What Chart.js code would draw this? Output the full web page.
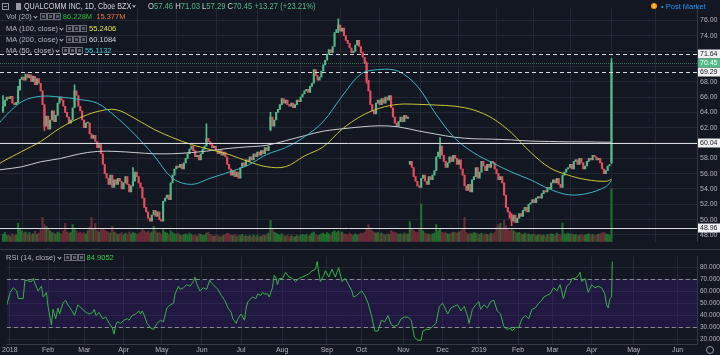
<!DOCTYPE html>
<html><head><meta charset="utf-8">
<script src="https://cdn.jsdelivr.net/npm/chart.js@4.4.1/dist/chart.umd.min.js"></script>
<style>
html,body{margin:0;padding:0;background:#131722;width:720px;height:355px;overflow:hidden;font-family:"Liberation Sans",Arial,sans-serif;}
canvas{position:absolute;left:0;}
#main{top:0;}
#rsi{top:250px;}
#sep{position:absolute;left:0;top:249px;width:720px;height:1px;background:#363a45;}
.row{position:absolute;left:6px;white-space:nowrap;font-size:7.5px;line-height:9px;color:#b2b5be;}
.chev{display:inline-block;width:2px;height:2px;border-right:1px solid #b2b5be;border-bottom:1px solid #b2b5be;transform:rotate(45deg);margin:0 3px 2px 2px;vertical-align:middle;}
.ic{display:inline-block;width:5px;height:5px;border:1px solid #6a6d78;margin-right:0;vertical-align:middle;position:relative;top:-1px;}
.ic i{position:absolute;left:1px;top:1px;width:3px;height:3px;background:#5a5d68;}
.v{margin-left:2px;}
#title{position:absolute;left:0;top:0;height:12px;width:720px;font-size:9px;line-height:12px;color:#d1d4dc;white-space:nowrap;}
.sq{display:inline-block;transform:scaleX(0.8);transform-origin:0 50%;}
.g{color:#53b987}
</style></head>
<body>
<canvas id="main" width="720" height="249"></canvas>
<div id="sep"></div>
<canvas id="rsi" width="720" height="105"></canvas>

<div id="title">
  <span style="position:absolute;left:2px;top:3px;width:5px;height:5px;border:1px solid #9598a1;"><i style="position:absolute;left:1px;top:2px;width:3px;height:1px;background:#9598a1"></i></span>
  <span style="position:absolute;left:16px;top:3px;width:5px;height:7px;background:#9598a1;"></span>
  <span class="sq" style="position:absolute;left:24px;top:0;">QUALCOMM INC, 1D, Cboe BZX<span class="chev" style="border-color:#d1d4dc"></span></span>
  <span class="sq" style="position:absolute;left:148px;top:0;transform:scaleX(0.85);">O<span class="g">57.46</span> H<span class="g">71.03</span> L<span class="g">57.29</span> C<span class="g">70.45</span> <span class="g">+13.27 (+23.21%)</span></span>
  <span style="position:absolute;left:651px;top:3px;width:6px;height:6px;border-radius:50%;background:#ff9800;color:#fff;font-size:5px;line-height:6px;text-align:center;font-weight:bold">!</span>
  <span style="position:absolute;left:661px;top:1px;font-size:7.5px;color:#2196f3;">&bull; Post Market</span>
</div>
<div class="row" style="top:12px">Vol (20)<span class="chev"></span><span class="ic"><i></i></span><span class="ic"><i></i></span><span class="ic"><i></i></span><span class="v" style="color:#26c030">86.228M</span>&nbsp; <span style="color:#e8793a">15.377M</span></div>
<div class="row" style="top:24px">MA (100, close)<span class="chev"></span><span class="ic"><i></i></span><span class="ic"><i></i></span><span class="ic"><i></i></span><span class="v" style="color:#e3e24a">55.2406</span></div>
<div class="row" style="top:35px">MA (200, close)<span class="chev"></span><span class="ic"><i></i></span><span class="ic"><i></i></span><span class="ic"><i></i></span><span class="v" style="color:#d1d4dc">60.1084</span></div>
<div class="row" style="top:46px">MA (50, close)<span class="chev"></span><span class="ic"><i></i></span><span class="ic"><i></i></span><span class="ic"><i></i></span><span class="v" style="color:#3cc6d4">55.1132</span></div>
<div class="row" style="top:253px">RSI (14, close)<span class="chev"></span><span class="ic"><i></i></span><span class="ic"><i></i></span><span class="ic"><i></i></span><span class="v" style="color:#3cd048">84.9052</span></div>
<div style="position:absolute;left:706px;top:346px;width:6px;height:6px;border:1px solid #9598a1;border-radius:50%;"></div>

<script>
// ---------- DATA ----------
const monthBars   = [0, 20.5, 40, 61, 81.5, 103, 124, 146, 170, 188.5, 211, 232, 251.5, 272.5, 291, 312, 334.5, 358];
const monthLabels = ['2018','Feb','Mar','Apr','May','Jun','Jul','Aug','Sep','Oct','Nov','Dec','2019','Feb','Mar','Apr','May','Jun'];

// daily closes, 2 Jan 2018 .. 16 Apr 2019
const closes = [
64.8,65.6,66.0,65.8,66.1,65.2,65.0,65.3,66.9,68.3,
68.6,68.2,69.0,68.5,68.9,68.0,68.7,67.6,68.4,67.8,
66.8,65.0,62.2,63.5,61.8,63.0,64.2,62.8,63.6,65.2,
66.0,65.6,64.8,64.0,63.4,62.6,63.0,64.6,66.8,66.2,
64.8,64.2,63.0,62.0,62.6,62.6,61.2,60.6,61.0,60.2,
59.4,59.8,58.6,57.2,56.0,55.4,54.6,55.8,54.2,55.2,
54.6,55.4,55.0,54.0,54.8,55.6,54.6,53.6,54.4,55.0,
56.2,55.6,54.8,54.2,52.8,51.6,51.0,50.2,49.8,50.6,
51.2,50.4,51.0,50.0,49.8,52.4,52.8,53.2,52.6,54.8,
55.8,56.6,57.0,56.8,57.2,56.6,57.4,58.0,58.6,59.2,
59.6,59.0,58.2,58.4,57.8,58.6,59.2,59.6,60.6,60.2,
59.8,59.4,59.6,59.0,58.6,59.0,58.4,58.8,58.2,57.2,
56.6,55.8,56.4,55.6,56.2,55.4,56.8,57.4,57.0,57.8,
57.6,58.2,57.8,58.6,58.2,58.8,58.4,59.0,58.6,59.4,
59.0,59.6,63.4,62.2,63.0,64.0,64.4,65.0,65.8,65.2,
65.6,65.0,64.8,65.2,64.6,65.0,65.6,65.4,66.0,66.4,
66.8,67.0,66.6,67.4,67.8,69.6,68.8,68.2,68.6,69.4,
70.2,70.8,71.6,72.2,71.8,72.6,74.4,74.8,75.4,74.6,
75.0,74.0,73.4,73.0,72.4,71.8,72.0,72.8,73.4,72.6,
71.8,71.2,70.4,68.2,66.8,65.0,64.2,63.8,65.2,65.6,
65.0,65.8,65.2,66.0,65.6,66.2,64.6,63.4,62.6,62.2,
62.8,63.4,62.8,63.6,63.2,63.4,57.6,56.8,55.6,55.0,
54.4,54.2,55.4,55.8,55.0,54.6,55.6,55.2,55.8,56.4,
58.2,58.8,59.6,58.4,57.6,56.8,57.4,58.2,57.6,58.4,
58.0,57.2,57.8,56.6,55.8,54.4,53.8,54.6,53.6,55.2,
55.6,56.8,55.4,56.2,57.6,57.0,56.4,57.2,56.8,57.6,
57.4,56.6,56.0,55.2,55.6,54.8,53.2,51.6,51.0,50.2,
49.8,50.6,49.6,50.2,50.8,50.4,51.2,51.6,51.0,52.0,
52.2,52.6,52.2,52.8,53.0,52.8,53.4,53.8,53.6,54.2,
54.0,54.8,55.2,54.8,55.4,54.6,54.2,55.8,56.2,56.6,
56.8,57.2,56.6,57.6,57.8,57.2,58.0,57.4,56.6,57.0,
57.6,58.0,57.8,58.4,58.2,57.8,58.0,57.4,56.6,56.0,
56.4,57.0,57.18,70.45];

// opens that differ from the previous close: [bar, open]
const openGaps = [[0,64.2],[142,61.8],[216,57.2],[323,57.46]];
// visible wicks: [bar, low, high]
const wicks = [[0,64.0,66.2],[8,65.2,67.4],[22,61.6,64.6],[38,64.8,67.6],[69,54.4,56.8],[108,59.8,62.5],
               [142,61.6,64.0],[178,74.4,76.2],[193,67.8,70.6],[232,58.0,60.7],[270,49.2,50.8],[323,57.29,71.03]];

// volume, millions
const volumes = [
12,15,10,11,9,13,10,11,30,22, 18,14,16,12,15,11,13,17,12,14,
20,40,28,25,22,18,15,14,12,16, 14,12,18,30,16,14,15,28,20,17,
14,16,13,15,12,18,24,40,22,30, 18,16,20,22,19,17,15,14,25,16,
14,12,13,15,11,14,12,16,13,15, 14,12,13,16,22,18,15,17,14,16,
25,18,14,15,13,20,16,14,12,18, 15,13,12,14,11,10,12,13,11,14,
12,10,11,9,13,12,10,11,14,16, 12,10,9,11,10,8,9,10,12,14,
13,11,10,12,9,11,10,12,9,10, 9,10,8,11,9,10,8,9,11,10,
12,14,35,22,16,14,12,11,13,10, 9,11,8,10,9,8,10,9,11,12,
10,12,9,11,14,16,12,10,11,13, 14,12,15,13,11,16,18,15,17,14,
16,13,12,11,14,12,10,13,11,12, 14,13,16,22,28,20,18,16,14,15,
13,14,12,11,13,12,18,16,15,14, 12,13,11,14,12,13,33,22,18,16,
15,20,62,18,14,13,12,11,13,14, 28,18,22,16,14,15,13,12,14,16,
15,14,16,18,20,40,15,12,14,13, 15,14,13,12,14,11,13,12,11,14,
13,15,24,28,30,22,35,26,20,18, 22,18,16,14,15,13,12,14,12,13,
11,12,13,10,11,12,10,11,9,12, 11,13,12,10,14,12,11,30,13,12,
14,12,13,11,12,10,11,12,10,11, 12,13,11,12,10,11,12,13,14,15,
13,12,11,86.228];

// moving averages, read at these bars
const maBars = [-1.6,0,10,20,30,40,50,60,70,80,90,100,110,120,130,140,150,160,170,180,190,200,210,220,230,240,250,260,270,280,290,300,310,320,323];
const ma50  = [62.7,63.2,65.4,66.1,66.0,65.7,65.2,63.4,61.1,58.4,55.4,54.6,55.4,56.2,57.1,58.5,59.4,60.8,62.8,66.1,69.0,69.6,69.35,67.4,63.7,60.6,58.7,57.4,56.2,55.2,54.0,53.25,53.4,54.3,55.11];
const ma100 = [57.35,57.6,58.9,60.2,61.9,63.2,64.1,64.35,63.2,61.8,60.7,59.8,59.15,58.5,57.6,56.9,56.9,58.3,59.5,61.8,63.5,64.55,65.05,65.05,64.95,64.8,64.3,63.2,61.3,58.8,56.8,55.8,55.2,55.0,55.24];
const ma200 = [56.5,56.55,56.9,57.55,57.95,58.55,58.9,58.9,58.75,58.6,58.6,58.75,59.0,59.3,59.5,59.7,60.3,60.95,61.55,61.85,62.1,62.25,62.1,61.6,61.15,60.75,60.55,60.5,60.4,60.25,60.2,60.15,60.15,60.1,60.11];

// RSI(14): [bar, value]
const rsiPoints = [
[-1.6,48.8],[0.2,59.1],[1.9,63.0],[3.7,60.4],[4.6,54.0],[7.2,54.0],[8.1,69.5],[9.9,68.7],[11.7,68.2],[12.6,70.8],
[13.4,66.9],[15.2,60.4],[17.0,64.3],[17.9,55.3],[19.6,59.1],[20.5,47.5],[22.3,32.1],[23.2,45.0],[24.6,37.2],[25.8,46.2],
[26.7,41.1],[28.5,50.1],[29.9,52.7],[31.1,48.8],[32.9,45.0],[34.7,39.8],[36.5,48.8],[37.3,47.5],[39.1,45.0],[40.9,42.4],
[42.6,41.1],[44.4,42.4],[45.3,45.0],[46.2,39.8],[47.9,42.4],[49.7,37.2],[51.5,38.5],[53.3,33.3],[55.0,29.5],[55.9,24.3],
[56.8,32.1],[57.7,34.6],[59.4,33.3],[61.2,35.9],[63.0,37.2],[63.9,35.9],[65.6,39.8],[67.4,41.1],[69.2,43.7],[70.1,41.1],
[70.9,43.7],[71.8,41.1],[73.6,33.3],[75.4,29.5],[77.1,28.2],[78.9,33.3],[80.7,35.9],[82.4,34.6],[84.2,46.2],[86.0,48.8],
[87.8,50.1],[88.6,57.9],[90.4,64.3],[91.3,61.7],[93.1,63.0],[94.8,65.6],[96.6,64.3],[98.4,68.2],[99.3,72.0],[100.1,66.9],
[101.9,60.4],[103.7,63.0],[105.5,61.7],[107.2,69.5],[108.1,66.9],[109.9,64.3],[111.6,61.7],[113.4,56.6],[115.2,52.7],[117.0,46.2],
[118.7,42.4],[119.6,37.2],[121.4,33.3],[122.3,37.2],[124.0,41.1],[125.8,35.9],[126.7,46.2],[127.6,51.4],[129.3,54.0],[130.2,55.3],
[132.0,54.0],[132.9,57.9],[134.6,56.6],[135.5,59.1],[136.4,57.9],[138.2,57.9],[139.1,55.3],[140.8,63.0],[141.7,73.3],[142.6,72.0],
[143.5,65.6],[144.4,70.8],[146.1,70.8],[147.9,75.9],[149.7,72.0],[151.5,70.8],[153.2,68.2],[155.0,70.8],[156.8,72.0],[158.6,73.3],
[160.3,74.6],[162.1,77.2],[163.9,78.5],[164.8,84.9],[165.6,75.9],[166.5,68.2],[168.3,73.3],[169.2,77.2],[171.0,72.0],[172.7,78.5],
[174.5,72.0],[176.3,79.8],[178.1,68.2],[179.8,70.8],[181.6,65.6],[183.4,60.4],[184.2,55.3],[185.9,56.6],[188.6,60.4],[190.3,56.6],
[192.1,50.1],[193.9,39.8],[195.7,26.9],[197.4,26.9],[199.2,35.9],[201.0,34.6],[202.8,39.8],[204.5,32.1],[206.3,30.8],[208.1,32.1],
[209.8,37.2],[211.6,38.5],[213.4,38.5],[215.2,35.9],[216.9,21.7],[218.7,19.2],[220.5,19.2],[221.4,26.9],[223.2,28.2],[224.9,28.2],
[226.7,30.8],[228.5,33.3],[230.3,47.5],[232.0,50.1],[232.9,47.5],[234.7,41.1],[236.5,46.2],[238.2,47.5],[240.0,48.8],[241.8,43.7],
[243.6,47.5],[245.3,39.8],[246.2,33.3],[248.0,45.0],[249.8,48.8],[251.5,51.4],[252.4,45.0],[254.2,48.8],[256.0,46.2],[257.7,51.4],
[259.5,52.7],[261.3,43.7],[263.1,41.1],[264.8,30.8],[266.6,28.2],[268.4,29.5],[269.3,26.9],[271.1,30.0],[272.8,29.5],[274.6,37.2],
[276.4,39.8],[278.2,37.2],[279.9,45.0],[281.7,46.2],[283.5,50.1],[285.3,52.7],[286.2,55.3],[287.9,56.6],[289.7,57.9],[291.5,63.0],
[293.3,60.4],[295.0,65.6],[296.8,54.0],[298.6,64.3],[300.4,66.9],[301.3,70.8],[303.0,70.8],[304.8,73.3],[305.7,75.9],[306.6,68.2],
[308.4,70.8],[310.1,59.1],[311.9,65.6],[313.7,63.0],[315.5,64.3],[317.3,63.0],[319.0,57.9],[319.9,48.8],[320.8,46.2],[321.7,54.0],
[322.6,55.3],[323,84.9052]];

const priceTicks = [48,50,52,54,56,58,60,62,64,66,68,70,72,74,76];
const hiddenPriceLabels = [60,70,72];
const levelPrices = [71.64, 69.29, 60.04, 48.96];
const rsiTicks = [20,30,40,50,60,70,80];
const rsiBands = [70, 30];

// ---------- STYLE ----------
const FONT = '"Liberation Sans", Arial, sans-serif';
const UP = '#53b987', DN = '#eb4d5c', VUP = '#216d2d', VDN = '#6c2c37';
const GRID = '#232733', AXIS = '#363a45', TXT = '#b2b5be';
const X_MIN = -1.59, X_MAX = 368.4;

const opens = closes.map((c, i) => i > 0 ? closes[i - 1] : c);
openGaps.forEach(([i, o]) => { opens[i] = o; });
const up = closes.map((c, i) => c >= opens[i]);

const setMonthTicks = s => { s.ticks = monthBars.map(v => ({value: v})); };

const levelPlugin = {
  id: 'levels',
  afterDatasetsDraw(chart) {
    const {ctx, chartArea: ca, scales: {y}} = chart;
    ctx.save();
    ctx.lineWidth = 1;
    const last = closes[closes.length - 1];
    const yl = Math.round(y.getPixelForValue(last)) + 0.5;
    ctx.strokeStyle = 'rgba(83,185,135,0.55)';
    ctx.setLineDash([1, 1]);
    ctx.beginPath(); ctx.moveTo(ca.left, yl); ctx.lineTo(ca.right, yl); ctx.stroke();
    levelPrices.forEach((p, k) => {
      const yy = Math.round(y.getPixelForValue(p)) + 0.5;
      ctx.strokeStyle = '#d8d9dc';
      ctx.setLineDash(k < 2 ? [4, 3] : []);
      ctx.beginPath(); ctx.moveTo(ca.left, yy); ctx.lineTo(ca.right, yy); ctx.stroke();
    });
    ctx.setLineDash([]);
    ctx.font = '7px ' + FONT;
    ctx.textBaseline = 'middle';
    const box = (p, bg, fg) => {
      const yy = Math.round(y.getPixelForValue(p));
      ctx.fillStyle = bg;
      ctx.fillRect(ca.right + 1, yy - 4.5, chart.width - ca.right - 1, 9);
      ctx.fillStyle = fg;
      ctx.fillText(p.toFixed(2), ca.right + 3, yy + 0.5);
    };
    levelPrices.forEach(p => box(p, '#f0f0f0', '#131722'));
    box(last, UP, '#ffffff');
    ctx.restore();
  }
};

new Chart(document.getElementById('main'), {
  type: 'bar',
  data: {
    datasets: [
      {type: 'line', order: 1, data: maBars.map((b, i) => ({x: b, y: ma50[i]})), borderColor: '#3ab6c6', borderWidth: 1, pointRadius: 0, tension: 0.35, yAxisID: 'y'},
      {type: 'line', order: 1, data: maBars.map((b, i) => ({x: b, y: ma100[i]})), borderColor: '#c8c636', borderWidth: 1, pointRadius: 0, tension: 0.35, yAxisID: 'y'},
      {type: 'line', order: 1, data: maBars.map((b, i) => ({x: b, y: ma200[i]})), borderColor: '#c9cbd0', borderWidth: 1, pointRadius: 0, tension: 0.35, yAxisID: 'y'},
      {order: 2, data: closes.map((c, i) => ({x: i, y: [opens[i], c]})), backgroundColor: up.map(u => u ? UP : DN),
       barThickness: 1.5, minBarLength: 1, grouped: false, borderWidth: 0, yAxisID: 'y'},
      {order: 3, data: wicks.map(([i, l, h]) => ({x: i, y: [l, h]})), backgroundColor: wicks.map(([i]) => up[i] ? UP : DN),
       barThickness: 1, grouped: false, borderWidth: 0, yAxisID: 'y'},
      {order: 5, data: volumes.map((v, i) => ({x: i, y: v})), backgroundColor: up.map(u => u ? VUP : VDN),
       barThickness: 1.5, grouped: false, borderWidth: 0, yAxisID: 'yv'}
    ]
  },
  options: {
    responsive: false, animation: false, devicePixelRatio: 1, events: [],
    layout: {padding: 0, autoPadding: false},
    plugins: {legend: {display: false}, tooltip: {enabled: false}},
    scales: {
      x: {type: 'linear', min: X_MIN, max: X_MAX, offset: false,
          grid: {color: GRID, drawTicks: false}, border: {display: false},
          ticks: {display: false}, afterBuildTicks: setMonthTicks, afterFit: s => { s.height = 0; }},
      y: {type: 'linear', position: 'right', min: 47.1, max: 77.73,
          grid: {color: GRID, drawTicks: false}, border: {display: true, color: AXIS},
          ticks: {color: TXT, font: {size: 7, family: FONT}, padding: 3,
                  callback: v => hiddenPriceLabels.includes(v) ? '' : v.toFixed(2)},
          afterBuildTicks: s => { s.ticks = priceTicks.map(v => ({value: v})); },
          afterFit: s => { s.width = 23; }},
      yv: {type: 'linear', display: false, min: 0, max: 382}
    }
  },
  plugins: [levelPlugin]
});

const bandPlugin = {
  id: 'band',
  beforeDatasetsDraw(chart) {
    const {ctx, chartArea: ca, scales: {y}} = chart;
    const y1 = y.getPixelForValue(rsiBands[0]), y2 = y.getPixelForValue(rsiBands[1]);
    ctx.save();
    ctx.fillStyle = 'rgba(90,30,200,0.19)';
    ctx.fillRect(ca.left, y1, ca.right - ca.left, y2 - y1);
    ctx.strokeStyle = '#8a8d96';
    ctx.lineWidth = 1;
    ctx.setLineDash([4, 3]);
    [y1, y2].forEach(yy => {
      const r = Math.round(yy) + 0.5;
      ctx.beginPath(); ctx.moveTo(ca.left, r); ctx.lineTo(ca.right, r); ctx.stroke();
    });
    ctx.restore();
  }
};

new Chart(document.getElementById('rsi'), {
  type: 'line',
  data: {datasets: [{data: rsiPoints.map(([b, v]) => ({x: b, y: v})), borderColor: '#36b444', borderWidth: 1, pointRadius: 0, tension: 0}]},
  options: {
    responsive: false, animation: false, devicePixelRatio: 1, events: [],
    layout: {padding: 0, autoPadding: false},
    plugins: {legend: {display: false}, tooltip: {enabled: false}},
    scales: {
      x: {type: 'linear', min: X_MIN, max: X_MAX, offset: false,
          grid: {color: GRID, drawTicks: false}, border: {display: true, color: AXIS},
          ticks: {color: TXT, font: {size: 7, family: FONT}, padding: 2, autoSkip: false, maxRotation: 0,
                  callback: (v, i) => monthLabels[i]},
          afterBuildTicks: setMonthTicks, afterFit: s => { s.height = 11; }},
      y: {type: 'linear', position: 'right', min: 16.07, max: 88.8,
          grid: {color: GRID, drawTicks: false}, border: {display: true, color: AXIS},
          ticks: {color: TXT, font: {size: 6.5, family: FONT}, padding: 3, callback: v => v.toFixed(4)},
          afterBuildTicks: s => { s.ticks = rsiTicks.map(v => ({value: v})); },
          afterFit: s => { s.width = 23; }}
    }
  },
  plugins: [bandPlugin]
});
</script>
</body></html>
